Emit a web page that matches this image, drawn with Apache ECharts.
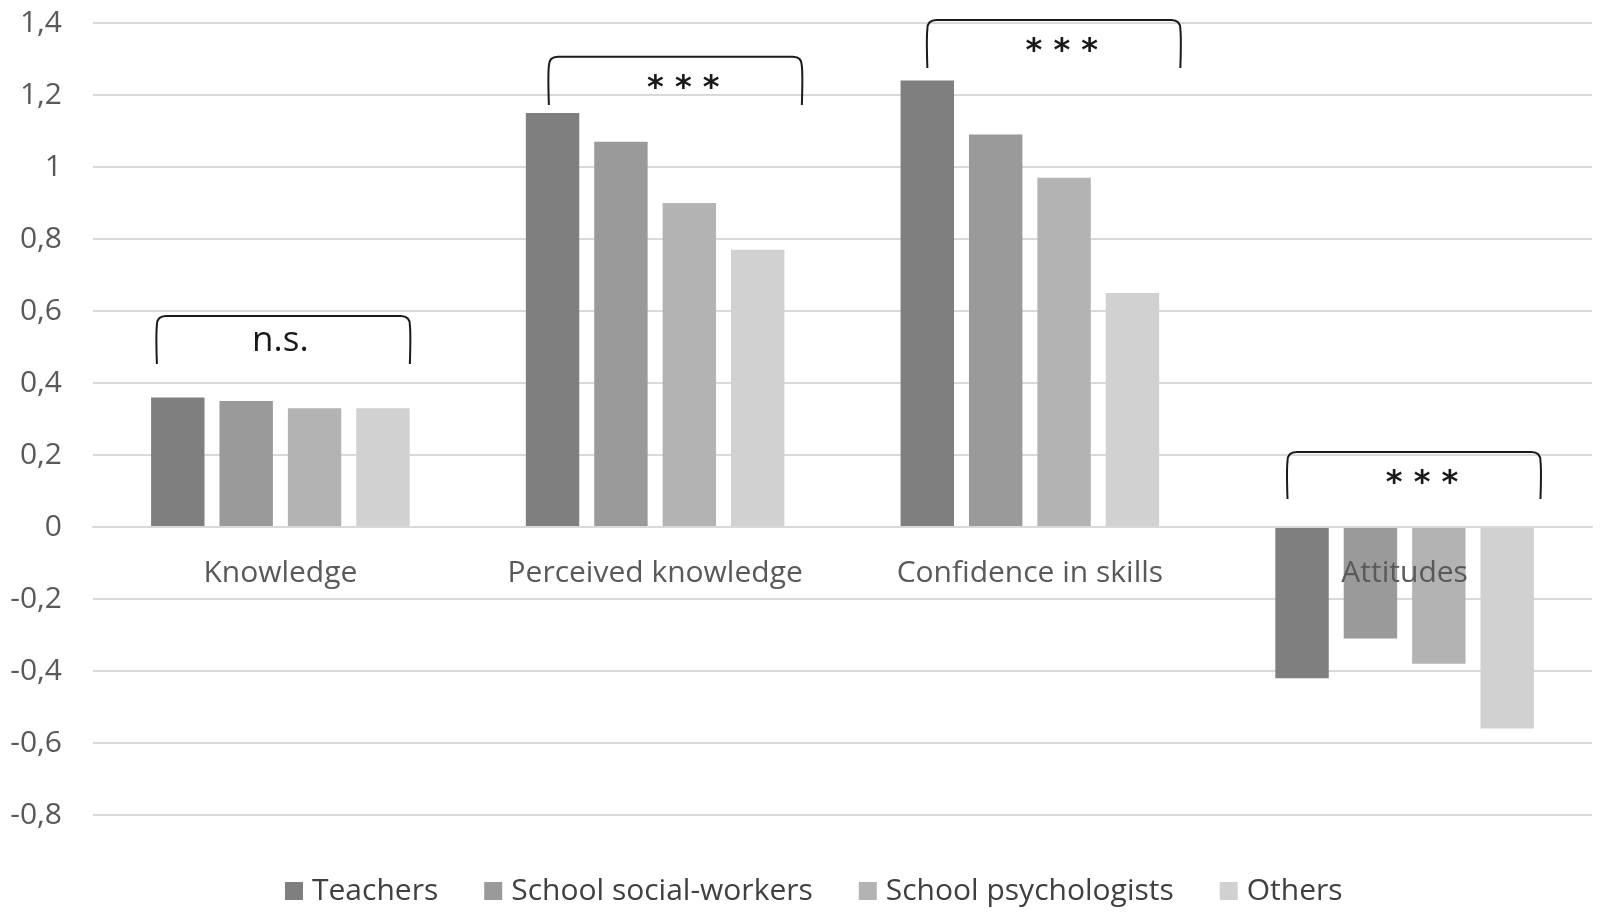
<!DOCTYPE html>
<html>
<head>
<meta charset="utf-8">
<script src="https://cdn.jsdelivr.net/npm/echarts@6/dist/echarts.min.js"></script>
<style>
  html, body { margin: 0; padding: 0; background: #fff; }
  #main { width: 1600px; height: 918px; }
</style>
</head>
<body>
<div id="main"></div>
<script>
const categories = ['Knowledge', 'Perceived knowledge', 'Confidence in skills', 'Attitudes'];
const groups = ['Teachers', 'School social-workers', 'School psychologists', 'Others'];

const teachers = [0.36, 1.15, 1.24, -0.42];
const socialWorkers = [0.35, 1.07, 1.09, -0.31];
const psychologists = [0.33, 0.90, 0.97, -0.38];
const others = [0.33, 0.77, 0.65, -0.56];

// significance brackets: top of bracket, end of legs, label
const bracketTop = [0.586, 1.306, 1.408, 0.208];
const bracketLeg = [0.453, 1.172, 1.275, 0.078];
const bracketText = ['n.s.', '* * *', '* * *', '* * *'];

// bracket placement inside each category band (fractions of band width)
const bracketShift = [0.008, 0.054, 0.064, 0.025];
const bracketHalf = 0.3375;

const colors = ['#7f7f7f', '#9a9a9a', '#b3b3b3', '#d1d1d1'];
const font = '"Open Sans", "Noto Sans", sans-serif';

const dom = document.getElementById('main');
const myChart = echarts.init(dom);

function renderBracket(params, api) {
  const i = params.dataIndex;
  const top = api.coord([api.value(0), api.value(1)]);
  const legY = api.coord([api.value(0), api.value(2)])[1];
  const band = api.size([1, 0])[0];
  const cx = top[0] + bracketShift[i] * band;
  const x1 = cx - bracketHalf * band;
  const x2 = cx + bracketHalf * band;
  const y = top[1];
  const r = 9;
  const stars = bracketText[i] !== 'n.s.';
  return {
    type: 'group',
    children: [
      {
        type: 'path',
        shape: {
          pathData: `M${x1},${legY} Q${x1 - 1},${y + r * 2} ${x1},${y + r} Q${x1},${y} ${x1 + r},${y} ` +
            `L${x2 - r},${y} Q${x2},${y} ${x2},${y + r} Q${x2 + 1},${y + r * 2} ${x2},${legY}`
        },
        style: { fill: null, stroke: '#1a1a1a', lineWidth: 2 }
      },
      {
        type: 'text',
        x: cx + (stars ? 8 : -3),
        y: y + (stars ? 32 : 25),
        style: {
          text: bracketText[i],
          fill: '#1a1a1a',
          font: stars ? 'bold 32px "DejaVu Sans", sans-serif' : `35px ${font}`,
          align: 'center',
          verticalAlign: 'middle'
        }
      }
    ]
  };
}

const seriesData = [teachers, socialWorkers, psychologists, others];

function axisOptions(offset) {
  return {
    type: 'category',
    data: categories,
    z: 10,
    offset,
    axisLine: { onZero: false, lineStyle: { color: '#d9d9d9', width: 2 } },
    axisTick: { show: false },
    axisLabel: { interval: 0, fontSize: 30, color: '#595959', margin: 31, fontFamily: font }
  };
}

myChart.setOption({
  animation: false,
  backgroundColor: '#fff',
  textStyle: { fontFamily: font },
  grid: { left: 93, right: 8, top: 23, bottom: 103, containLabel: false, outerBoundsMode: 'none' },
  legend: {
    data: groups,
    left: 280,
    top: 871,
    icon: 'rect',
    itemWidth: 18,
    itemHeight: 18,
    itemGap: 46,
    textStyle: { fontSize: 30, color: '#404040', fontFamily: font, padding: [0, 0, 0, 4] }
  },
  xAxis: axisOptions(0),
  yAxis: {
    type: 'value',
    min: -0.8,
    max: 1.4,
    interval: 0.2,
    axisLine: { show: false },
    axisTick: { show: false },
    splitLine: { lineStyle: { color: '#d9d9d9', width: 2 } },
    axisLabel: {
      fontSize: 30,
      color: '#595959',
      margin: 31,
      fontFamily: font,
      formatter: (v) => String(Math.round(v * 10) / 10).replace('.', ',')
    }
  },
  series: [
    ...groups.map((name, k) => ({
      name,
      type: 'bar',
      data: seriesData[k],
      barGap: '28%',
      barCategoryGap: '31%',
      itemStyle: { color: colors[k] }
    })),
    {
      type: 'custom',
      name: 'brackets',
      renderItem: renderBracket,
      data: categories.map((c, i) => [i, bracketTop[i], bracketLeg[i]]),
      z: 5,
      silent: true
    }
  ]
});

// move the category axis (with its labels) up to the zero line
const zeroY = myChart.convertToPixel({ yAxisIndex: 0 }, 0);
const bottomY = myChart.convertToPixel({ yAxisIndex: 0 }, -0.8);
myChart.setOption({ xAxis: axisOptions(zeroY - bottomY) });
</script>
</body>
</html>
